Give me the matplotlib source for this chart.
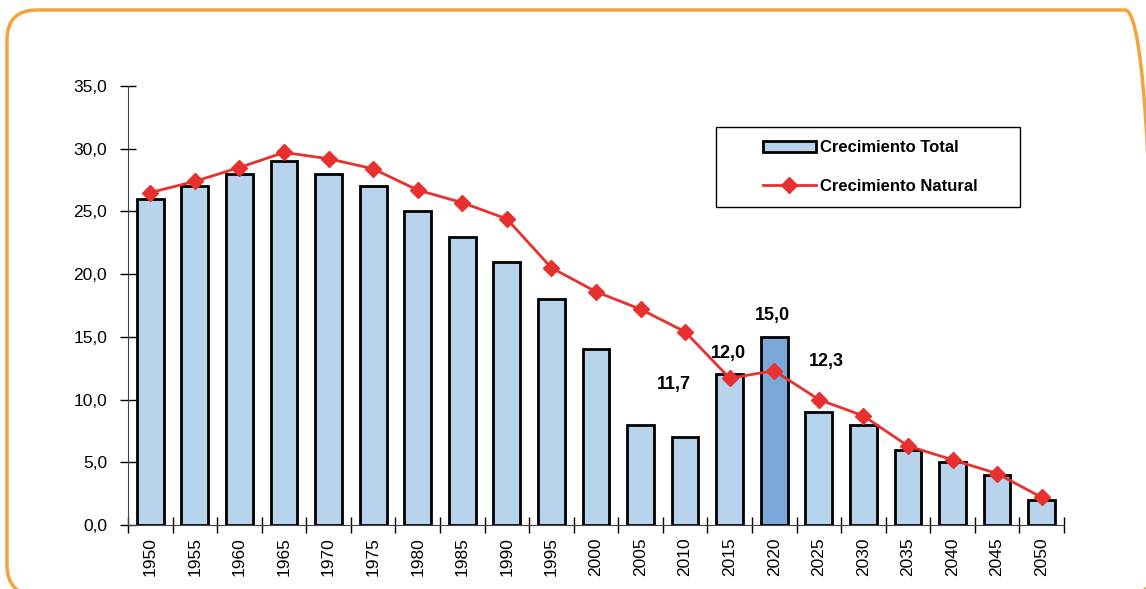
import numpy as np
import matplotlib.pyplot as plt
from matplotlib.patches import FancyBboxPatch, Patch, Rectangle
from matplotlib.lines import Line2D
from matplotlib.transforms import IdentityTransform

plt.rcParams['font.family'] = ['Liberation Sans', 'DejaVu Sans']

# Data
years = ['1950', '1955', '1960', '1965', '1970', '1975', '1980', '1985', '1990', '1995', '2000',
         '2005', '2010', '2015', '2020', '2025', '2030', '2035', '2040', '2045', '2050']
total = [26, 27, 28, 29, 28, 27, 25, 23, 21, 18, 14, 8, 7, 12, 15, 9, 8, 6, 5, 4, 2]
natural = [26.5, 27.4, 28.5, 29.7, 29.2, 28.4, 26.7, 25.7, 24.4, 20.5, 18.6,
           17.2, 15.4, 11.7, 12.3, 10.0, 8.7, 6.3, 5.2, 4.1, 2.2]
highlight = '2020'
# value labels: text, year it belongs to, offset (x in categories, y in data units)
notes = [('11,7', '2015', -1.25, -0.5),
         ('12,0', '2015', -0.02, 1.95),
         ('15,0', '2020', -0.03, 4.4),
         ('12,3', '2025', 0.16, 3.0)]

light = '#B8D3EC'
dark = '#7BA7D9'
red = '#E8302E'

fig = plt.figure(figsize=(11.46, 5.89), dpi=100)
ax = fig.add_axes([0.1117, 0.1087, 0.8167, 0.7453])

x = np.arange(len(years))
colors = [dark if y == highlight else light for y in years]
ax.bar(x, total, width=0.6, color=colors, edgecolor='black', linewidth=2, zorder=2)
ax.plot(x, natural, color=red, linewidth=2, marker='D', markersize=8, zorder=3)

for txt, yr, dx, dy in notes:
    i = years.index(yr)
    ax.text(i + dx, natural[i] + dy, txt, ha='center', va='center',
            fontsize=13, fontweight='bold')

ax.set_xlim(-0.5, len(years) - 0.5)
ax.set_ylim(0, 35)
yt = np.arange(0, 36, 5)
ax.set_yticks(yt)
ax.set_yticklabels([f'{v:.1f}'.replace('.', ',') for v in yt], fontsize=12.5)
ax.set_xticks(x)
ax.set_xticklabels(years, rotation=90, fontsize=12.5)
ax.set_xticks(np.arange(-0.5, len(years), 1), minor=True)
ax.tick_params(axis='x', which='major', length=0, pad=9)
ax.tick_params(axis='x', which='minor', direction='inout', length=12, width=1)
ax.tick_params(axis='y', direction='inout', length=12, width=1, pad=9)

for s in ['top', 'right']:
    ax.spines[s].set_visible(False)
ax.spines['left'].set_color('#444444')
ax.spines['bottom'].set_color('#444444')

# legend: frameless, centred inside a separate box
box = (0.6248, 0.6486, 0.2653, 0.1358)
fig.patches.append(Rectangle(box[:2], box[2], box[3], transform=fig.transFigure,
                             facecolor='white', edgecolor='black', linewidth=1, zorder=4))
handles = [Patch(facecolor=light, edgecolor='black', linewidth=2),
           Line2D([], [], color=red, linewidth=2, marker='D', markersize=8)]
leg = fig.legend(handles, ['Crecimiento Total', 'Crecimiento Natural'],
                 loc='center', bbox_to_anchor=(box[0] + box[2] / 2 + 0.002, box[1] + box[3] / 2),
                 bbox_transform=fig.transFigure, frameon=False,
                 prop={'weight': 'bold', 'size': 12},
                 labelspacing=1.4, handlelength=3.2, handletextpad=0.25, borderpad=0)
leg.set_zorder(5)

# orange rounded frame (pixel coordinates, partly outside the canvas)
frame = FancyBboxPatch((7, -6), 1148, 585, boxstyle='round,pad=0,rounding_size=30',
                       transform=IdentityTransform(), facecolor='none', edgecolor='#F2A33A',
                       linewidth=2.5)
fig.patches.append(frame)

fig.savefig('out.png', dpi=100)
